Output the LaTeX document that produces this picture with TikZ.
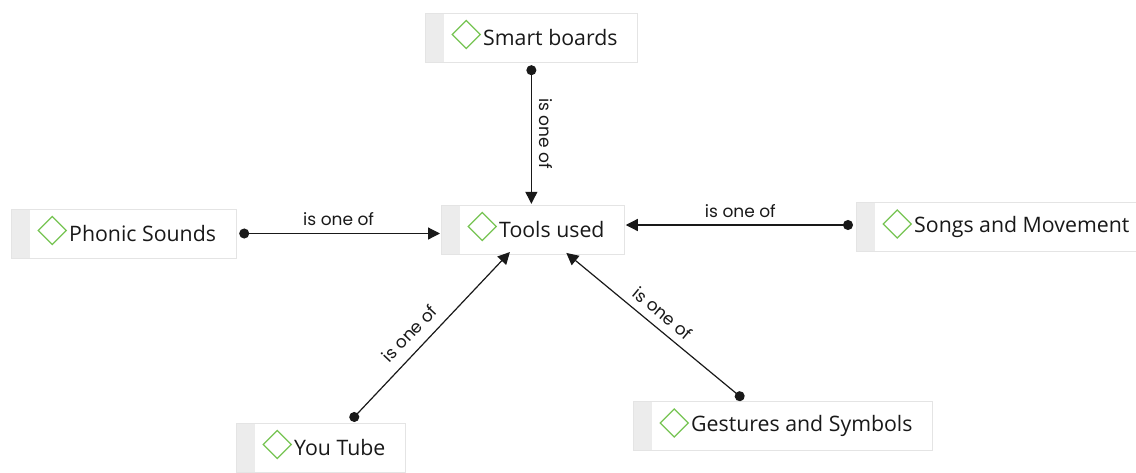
\documentclass[tikz,border=0pt]{standalone}
\usepackage{fontspec}
\setmainfont{Open Sans}
\newfontfamily\linkfont{Poppins}
\usetikzlibrary{arrows.meta}

\definecolor{conceptgreen}{RGB}{118,196,82}
\definecolor{stripgray}{RGB}{236,236,236}
\definecolor{framegray}{RGB}{228,228,228}
\definecolor{inkgray}{RGB}{25,25,25}

\tikzstyle{concept}=[draw=framegray, fill=white, minimum height=49pt, inner xsep=0pt, anchor=west,
  text=inkgray, font=\fontsize{21.3}{24}\selectfont,
  execute at begin node=\hspace*{58pt}, execute at end node=\hspace*{20pt},
  path picture={
    \fill[stripgray] (path picture bounding box.south west) rectangle ([xshift=19pt]path picture bounding box.north west);
    \draw[conceptgreen, line width=1.3pt] ([xshift=27pt,yshift=3pt]path picture bounding box.west)
      -- ++(14pt,14pt) -- ++(14pt,-14pt) -- ++(-14pt,-14pt) -- cycle;
  }]
\tikzstyle{isoneof}=[draw=inkgray, line width=1.2pt, shorten <=3pt, shorten >=1pt,
  {Circle[length=10pt]}-{Triangle[length=12pt,width=12pt]}]
\tikzstyle{linklabel}=[font=\linkfont\fontsize{17}{18}\selectfont, text=inkgray, inner sep=7pt]

\begin{document}
\begin{tikzpicture}[x=1pt,y=-1pt]
	\useasboundingbox (0,0) rectangle (1136,472);

	\node [concept] (tools) at (441,229.5) {Tools used};
	\node [concept] (smart) at (425,37.5) {Smart boards};
	\node [concept] (phonic) at (11,233.5) {Phonic Sounds};
	\node [concept] (songs) at (856,227) {Songs and Movement};
	\node [concept] (youtube) at (236,447.5) {You Tube};
	\node [concept] (gestures) at (633,426) {Gestures and Symbols};

	\draw [isoneof] (smart.south) -- node [linklabel, rotate=-90, anchor=south] {is one of} (smart.south |- tools.north);
	\draw [isoneof] (phonic.east) -- node [linklabel, above] {is one of} (tools.west |- phonic.east);
	\draw [isoneof] ([yshift=2pt]songs.west) -- node [linklabel, above] {is one of} ([yshift=2pt]tools.east |- songs.west);
	\draw [isoneof, shorten >=-3pt] ([xshift=28pt]youtube.north) -- node [linklabel, sloped, above, inner sep=10pt, pos=0.46] {is one of} ([xshift=-25pt]tools.south);
	\draw [isoneof, shorten >=-2pt] ([xshift=-37pt]gestures.north) -- node [linklabel, sloped, above, inner sep=8pt, pos=0.52] {is one of} ([xshift=35pt]tools.south);
\end{tikzpicture}
\end{document}
